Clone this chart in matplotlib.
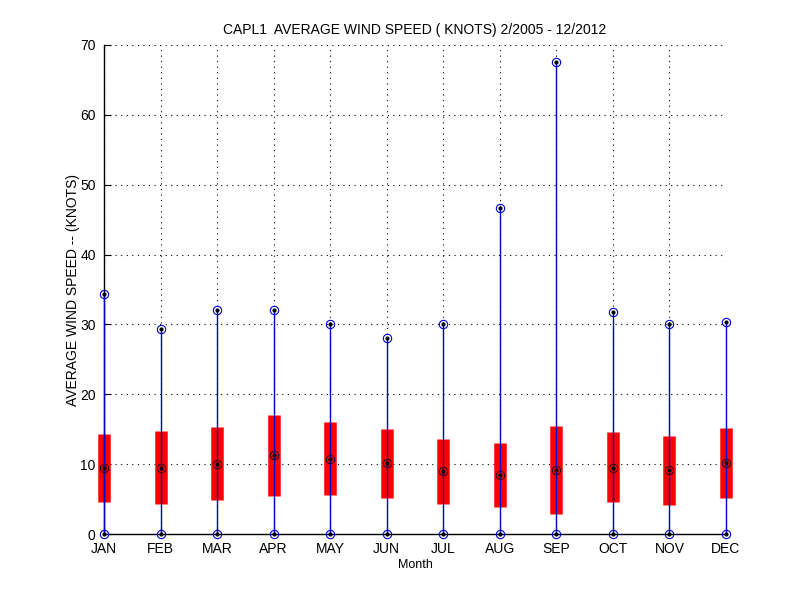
import matplotlib
matplotlib.use("Agg")
import matplotlib.pyplot as plt
import numpy as np

months = ["JAN", "FEB", "MAR", "APR", "MAY", "JUN", "JUL", "AUG", "SEP", "OCT", "NOV", "DEC"]
wind_min = [0, 0, 0, 0, 0, 0, 0, 0, 0, 0, 0, 0]
wind_p25 = [4.6, 4.3, 4.8, 5.5, 5.6, 5.2, 4.3, 3.8, 2.8, 4.6, 4.2, 5.1]
wind_med = [9.5, 9.5, 10.0, 11.3, 10.8, 10.2, 9.0, 8.4, 9.1, 9.5, 9.1, 10.2]
wind_p75 = [14.3, 14.7, 15.3, 17.0, 16.0, 15.1, 13.6, 13.0, 15.5, 14.6, 14.0, 15.2]
wind_max = [34.4, 29.4, 32.1, 32.1, 30.1, 28.1, 30.1, 46.7, 67.5, 31.8, 30.1, 30.3]

plt.rcParams["font.family"] = ["Liberation Sans", "DejaVu Sans"]

fig = plt.figure(figsize=(8, 6), dpi=100)
ax = fig.add_axes([0.13, 0.11, 0.7775, 0.815])

x = np.arange(1, len(months) + 1)

# red interquartile bars, then blue whisker line on top
bars = ax.vlines(x, wind_p25, wind_p75, colors="#ff0000", lw=9, zorder=2)
whisk = ax.vlines(x, wind_min, wind_max, colors="#0000cc", lw=1, zorder=3)
bars.set_clip_on(False)
whisk.set_clip_on(False)

for vals, ring in ((wind_min, "#0000cc"), (wind_max, "#0000cc"), (wind_med, "#300020")):
    ax.plot(x, vals, "o", ms=6, mfc="none", mec=ring, mew=0.8, zorder=4, clip_on=False)
    ax.plot(x, vals, ".", ms=4, color="k", zorder=5, clip_on=False)

ax.set_xlim(1, 12)
ax.set_ylim(0, 70)
ax.set_xticks(x)
ax.set_xticklabels(months)
ax.set_yticks(np.arange(0, 71, 10))

ax.grid(True, linestyle=(0, (1, 4)), color="k", lw=0.8)
ax.set_axisbelow(True)
for s in ("top", "right"):
    ax.spines[s].set_visible(False)
for s in ("left", "bottom"):
    ax.spines[s].set_linewidth(1.0)
ax.tick_params(direction="in", length=5, labelsize=10)
ax.tick_params(axis="x", pad=6)
ax.tick_params(axis="y", pad=6)

ax.set_xlabel("Month", fontsize=9, labelpad=2)
ax.set_ylabel("AVERAGE WIND SPEED -- (KNOTS)", fontsize=10, labelpad=0)
ax.set_title("CAPL1  AVERAGE WIND SPEED ( KNOTS) 2/2005 - 12/2012", fontsize=10, pad=8)

fig.savefig("out.png", dpi=100)
